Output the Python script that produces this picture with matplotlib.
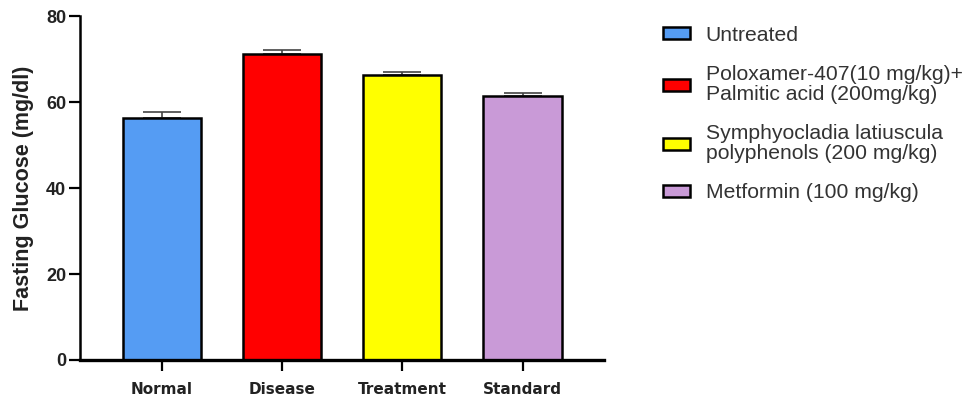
import matplotlib
matplotlib.use("Agg")
from matplotlib import pyplot as plt
from matplotlib.patches import Rectangle

groups = ["Normal", "Disease", "Treatment", "Standard"]
glucose = [56.2, 71.3, 66.3, 61.4]
sem = [1.4, 0.8, 0.7, 0.7]
legend_labels = [
	"Untreated",
	"Poloxamer-407(10 mg/kg)+\nPalmitic acid (200mg/kg)",
	"Symphyocladia latiuscula\npolyphenols (200 mg/kg)",
	"Metformin (100 mg/kg)",
]
bar_colors = ["#559cf3", "#ff0000", "#ffff00", "#c99ad7"]

fig = plt.figure(figsize=(9.7, 4.03), dpi=100)
ax = fig.add_axes([0.0825, 0.1067, 0.5405, 0.8533])

x = list(range(len(groups)))
ax.bar(x, glucose, width=0.65, color=bar_colors, edgecolor="black", linewidth=1.8, zorder=2)
# upper half of the error bars only
ax.errorbar(x, glucose, yerr=[[0] * len(sem), sem], fmt="none", ecolor="#444444",
	elinewidth=1.2, capsize=14, capthick=1.2, zorder=1)

ax.set_xlim(-0.68, 3.68)
ax.set_ylim(0, 80)
ax.set_yticks([0, 20, 40, 60, 80])
ax.set_xticks(x)
ax.set_xticklabels(groups, fontfamily="DejaVu Sans", fontweight="bold", fontsize=11, color="#222222")
for t in ax.get_yticklabels():
	t.set_fontfamily("Liberation Sans")
	t.set_fontweight("bold")
	t.set_fontsize(13)
	t.set_color("#222222")

ax.spines["top"].set_visible(False)
ax.spines["right"].set_visible(False)
ax.spines["left"].set_linewidth(1.8)
ax.spines["bottom"].set_linewidth(2.4)
ax.tick_params(axis="y", length=8, width=1.6, pad=2)
ax.tick_params(axis="x", length=8, width=1.6, pad=8)

ax.set_ylabel("Fasting Glucose (mg/dl)", fontfamily="Liberation Sans", fontweight="bold",
	fontsize=15.5, color="#222222", labelpad=9)

handles = [Rectangle((0, 0), 1, 1, facecolor=c, edgecolor="black", linewidth=1.8) for c in bar_colors]
fig.legend(handles, legend_labels, loc="upper left", bbox_to_anchor=(0.6725, 0.962),
	frameon=False, borderpad=0, handlelength=1.3, handleheight=0.5, handletextpad=0.72,
	labelspacing=0.95, prop={"family": "Liberation Sans", "size": 15.2})
for t in fig.legends[0].get_texts():
	t.set_color("#333333")
	t.set_linespacing(1.08)

fig.savefig("out.png", dpi=100)
